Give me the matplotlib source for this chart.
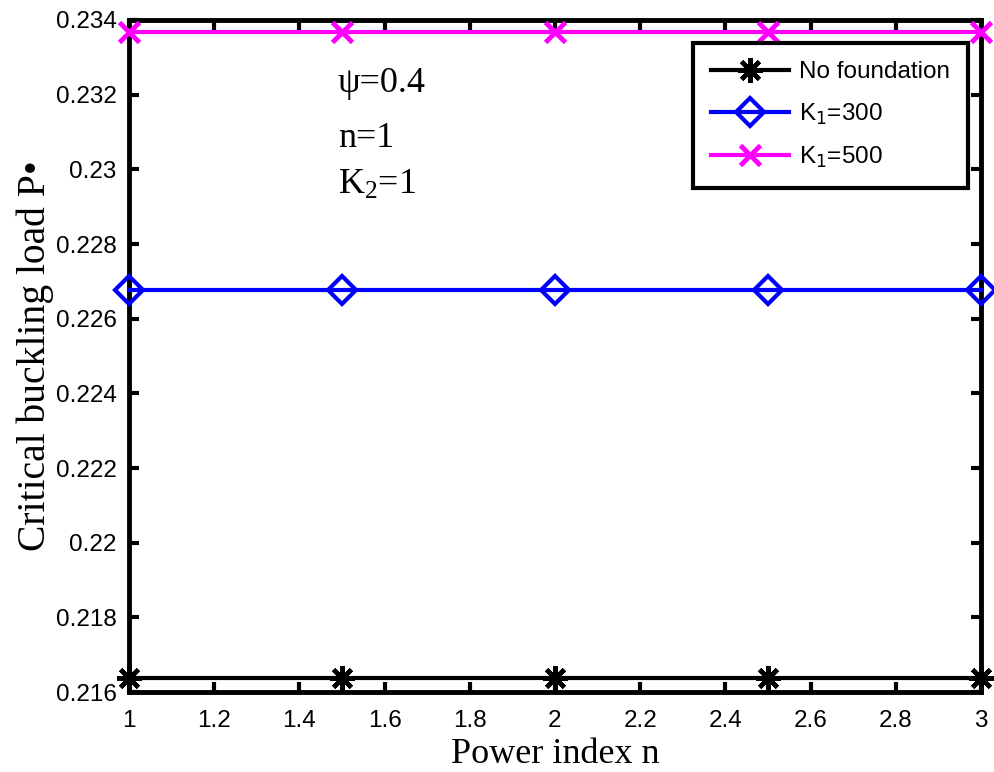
import matplotlib
matplotlib.use("Agg")
import matplotlib.pyplot as plt
import numpy as np

power_index = [1, 1.5, 2, 2.5, 3]
no_foundation = [0.21638, 0.21638, 0.21638, 0.21638, 0.21638]
k1_300 = [0.22677, 0.22677, 0.22677, 0.22677, 0.22677]
k1_500 = [0.23368, 0.23368, 0.23368, 0.23368, 0.23368]
xticks = [1, 1.2, 1.4, 1.6, 1.8, 2, 2.2, 2.4, 2.6, 2.8, 3]
yticks = [0.216, 0.218, 0.22, 0.222, 0.224, 0.226, 0.228, 0.23, 0.232, 0.234]
ytick_labels = ["0.216", "0.218", "0.22", "0.222", "0.224", "0.226", "0.228", "0.23", "0.232", "0.234"]

fig = plt.figure(figsize=(9.94, 7.72), dpi=100)
ax = fig.add_axes([0.1298, 0.1036, 0.8571, 0.8705])

ax.plot(power_index, no_foundation, color='black', lw=3, marker=(8, 2, 0),
        ms=18, mew=3.2, label='No foundation', clip_on=False, zorder=3)
ax.plot(power_index, k1_300, color='#0000ff', lw=3, marker='D', ms=14,
        mfc='none', mec='#0000ff', mew=3, label='K$_1$=300', clip_on=False, zorder=3)
ax.plot(power_index, k1_500, color='#ff00ff', lw=3, marker='x', ms=15,
        mew=3.5, label='K$_1$=500', clip_on=False, zorder=3)

ax.set_xlim(1, 3)
ax.set_ylim(0.216, 0.234)
ax.set_xticks(xticks)
ax.set_xticklabels([f"{t:g}" for t in xticks])
ax.set_yticks(yticks)
ax.set_yticklabels(ytick_labels)

for s in ax.spines.values():
    s.set_linewidth(3.5)
ax.tick_params(direction='in', length=7, width=3, top=True, right=True,
               labelsize=17.5, pad=9)
ax.tick_params(axis='x', pad=13)
for lab in ax.get_xticklabels() + ax.get_yticklabels():
    lab.set_fontfamily('Liberation Sans')

ax.set_xlabel('Power index n', family='Liberation Serif', fontsize=26, labelpad=4)
ax.set_ylabel('Critical buckling load P\u2022', family='Liberation Serif', fontsize=28.5, labelpad=1)

ax.text(0.245, 0.906, '\u03c8=0.4', transform=ax.transAxes, family='Liberation Serif',
        fontsize=26, va='center')
ax.text(0.245, 0.824, 'n=1', transform=ax.transAxes, family='Liberation Serif',
        fontsize=26, va='center')
ax.text(0.245, 0.754, r'$\mathregular{K_2}$=1', transform=ax.transAxes,
        family='Liberation Serif', fontsize=26, va='center')

leg = ax.legend(loc='upper right', bbox_to_anchor=(0.985, 0.966), fancybox=False,
                edgecolor='black', framealpha=1, handlelength=3.2, handletextpad=0.4,
                prop={'family': 'Liberation Sans', 'size': 17.5}, borderpad=0.75,
                labelspacing=0.75, borderaxespad=0)
leg.get_frame().set_linewidth(3)

fig.savefig('out.png', dpi=100)
